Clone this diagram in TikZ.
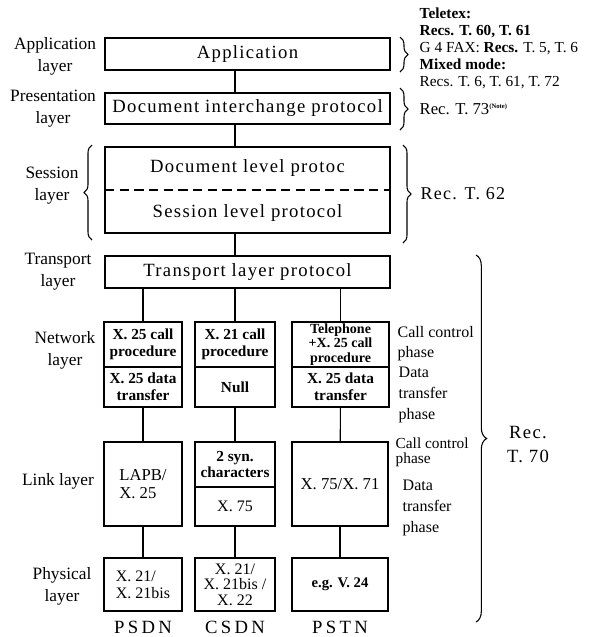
\documentclass[tikz,border=0pt]{standalone}
\usepackage{fontspec}
\setmainfont{Liberation Serif}
\newfontfamily\widefont[LetterSpace=7]{Liberation Serif}
\newfontfamily\netfont[LetterSpace=18]{Liberation Serif}
\usetikzlibrary{positioning,calc,decorations.pathreplacing}

\begin{document}
\begin{tikzpicture}[x=0.75pt,y=-0.75pt,
    layerbox/.style={draw,thick,outer sep=0pt,inner sep=1pt,align=center,
      minimum width=213.75pt,minimum height=24pt,font=\fontsize{14}{16}\widefont},
    netbox/.style={draw,thick,outer sep=0pt,inner sep=1pt,align=center,
      font=\fontsize{11.5}{12.5}\selectfont\bfseries},
    side/.style={align=center,font=\fontsize{13}{16.5}\selectfont},
    note/.style={align=left,anchor=west,font=\fontsize{11.5}{12.75}\selectfont},
    phase/.style={align=left,anchor=west,font=\fontsize{12}{15}\selectfont},
    conn/.style={thick},
    rbrace/.style={decorate,decoration={brace,amplitude=6pt},thick}
  ]
    \useasboundingbox (0,0) rectangle (589,637);
    % upper layers
    \node[layerbox] (app) at (247.5,54) {Application};
    \node[layerbox,minimum height=23.25pt] (dip) at (247.5,108.5) {Document interchange protocol};
    \node[layerbox,minimum height=64.5pt] (sess) at (247.5,190) {};
    \node[font=\fontsize{14}{16}\widefont] (sessdoc) at (247.5,168) {Document level protoc};
    \node[font=\fontsize{14}{16}\widefont] (sesslev) at (247.5,213) {Session level protocol};
    \draw[dashed,thick,dash pattern=on 7pt off 4pt] (sess.west) -- (sess.east);
    \node[layerbox] (trans) at (247.5,272) {Transport layer protocol};
    % network layer
    \node[netbox,minimum width=58.5pt,minimum height=33.75pt] (psdncall) at (143,344.5) {X. 25 call\\procedure};
    \node[netbox,minimum width=58.5pt,minimum height=30pt,below=0pt of psdncall] (psdndata) {X. 25 data\\transfer};
    \node[netbox,minimum width=60pt,minimum height=33.75pt] (csdncall) at (235,344.5) {X. 21 call\\procedure};
    \node[netbox,minimum width=60pt,minimum height=30pt,below=0pt of csdncall] (csdnnull) {Null};
    \node[netbox,minimum width=72.75pt,minimum height=33.75pt,font=\fontsize{10.5}{11}\selectfont\bfseries] (pstncall) at (340.5,344.5) {Telephone\\+X. 25 call\\procedure};
    \node[netbox,minimum width=72.75pt,minimum height=30pt,below=0pt of pstncall] (pstndata) {X. 25 data\\transfer};
    % link layer
    \node[netbox,minimum width=58.5pt,minimum height=63pt,font=\fontsize{12.5}{14}\selectfont,align=left] (psdnlink) at (143,484) {LAPB/\\X. 25};
    \node[netbox,minimum width=60pt,minimum height=33.75pt] (csdnsyn) at (235,464.5) {2 syn.\\characters};
    \node[netbox,minimum width=60pt,minimum height=29.25pt,below=0pt of csdnsyn,font=\fontsize{12}{14}\selectfont] (csdnx) {X. 75};
    \node[netbox,minimum width=72pt,minimum height=63pt,font=\fontsize{12.5}{14}\selectfont] (pstnlink) at (340,484) {X. 75/X. 71};
    % physical layer
    \node[netbox,minimum width=58.5pt,minimum height=39.75pt,font=\fontsize{12}{13}\selectfont,align=left] (psdnphy) at (143,584.5) {X. 21/\\X. 21bis};
    \node[netbox,minimum width=60pt,minimum height=39.75pt,font=\fontsize{12}{11.5}\selectfont] (csdnphy) at (235,584.5) {X. 21/\\X. 21bis /\\X. 22};
    \node[netbox,minimum width=72pt,minimum height=39.75pt,font=\fontsize{11}{12}\selectfont\bfseries] (pstnphy) at (340,584.5) {e.g. V. 24};
    % network names
    \node[font=\fontsize{14}{16}\netfont] (psdn) at (143,627) {PSDN};
    \node[font=\fontsize{14}{16}\netfont] (csdn) at (235,627) {CSDN};
    \node[font=\fontsize{14}{16}\netfont] (pstn) at (340,627) {PSTN};
    % connectors
    \draw[conn] (app.south -| csdncall) -- (dip.north -| csdncall);
    \draw[conn] (dip.south -| csdncall) -- (sess.north -| csdncall);
    \draw[conn] (sess.south -| csdncall) -- (trans.north -| csdncall);
    \foreach \n in {psdncall,csdncall,pstncall}
      \draw[conn] (trans.south -| \n) -- (\n.north);
    \draw[conn] (psdndata) -- (psdnlink);
    \draw[conn] (csdnnull) -- (csdnsyn);
    \draw[conn] (pstndata) -- (pstnlink);
    \draw[conn] (psdnlink) -- (psdnphy);
    \draw[conn] (csdnx) -- (csdnphy);
    \draw[conn] (pstnlink) -- (pstnphy);
    \draw[line width=2pt] (pstnlink.north east) -- ++(0,16);
    % layer names
    \node[side] (lapp) at (55,56) {Application\\layer};
    \node[side] (lpres) at (53,109) {Presentation\\layer};
    \node[side] (lsess) at (52,186) {Session\\layer};
    \node[side] (ltrans) at (58,272) {Transport\\layer};
    \node[side] (lnet) at (65,350) {Network\\layer};
    \node[side] (llink) at (58,481) {Link layer};
    \node[side] (lphy) at (62,586) {Physical\\layer};
    \draw[rbrace] (92,240) -- (92,145);
    % recommendations
    \draw[rbrace] (400,37) -- (400,72);
    \draw[rbrace] (400,88) -- (400,130);
    \draw[rbrace] (403,145) -- (403,243);
    \draw[rbrace,decoration={amplitude=8pt}] (476,255) -- (476,622);
    \node[note] (ntele) at (415,48) {\textbf{Teletex:}\\\textbf{Recs. T. 60, T. 61}\\G 4 FAX: \textbf{Recs.} T. 5, T. 6\\\textbf{Mixed mode:}\\Recs. T. 6, T. 61, T. 72};
    \node[note,font=\fontsize{12.5}{14}\selectfont] (nt73) at (415,109) {Rec. T. 73\textsuperscript{\tiny\bfseries (Note)}};
    \node[note,font=\fontsize{13.5}{15}\widefont] (nt62) at (416,194) {Rec. T. 62};
    \node[align=center,font=\fontsize{14}{18}\widefont] (nt70) at (528,445) {Rec.\\T. 70};
    % phases
    \node[phase] (netcc) at (393,344) {Call control\\phase};
    \node[phase,font=\fontsize{12}{15.5}\selectfont] (netdt) at (394,395) {Data\\transfer\\phase};
    \node[phase,font=\fontsize{11.5}{11.25}\selectfont] (linkcc) at (391,452) {Call control\\phase};
    \node[phase,font=\fontsize{12}{16}\selectfont] (linkdt) at (398,508) {Data\\transfer\\phase};
  \end{tikzpicture}
\end{document}
